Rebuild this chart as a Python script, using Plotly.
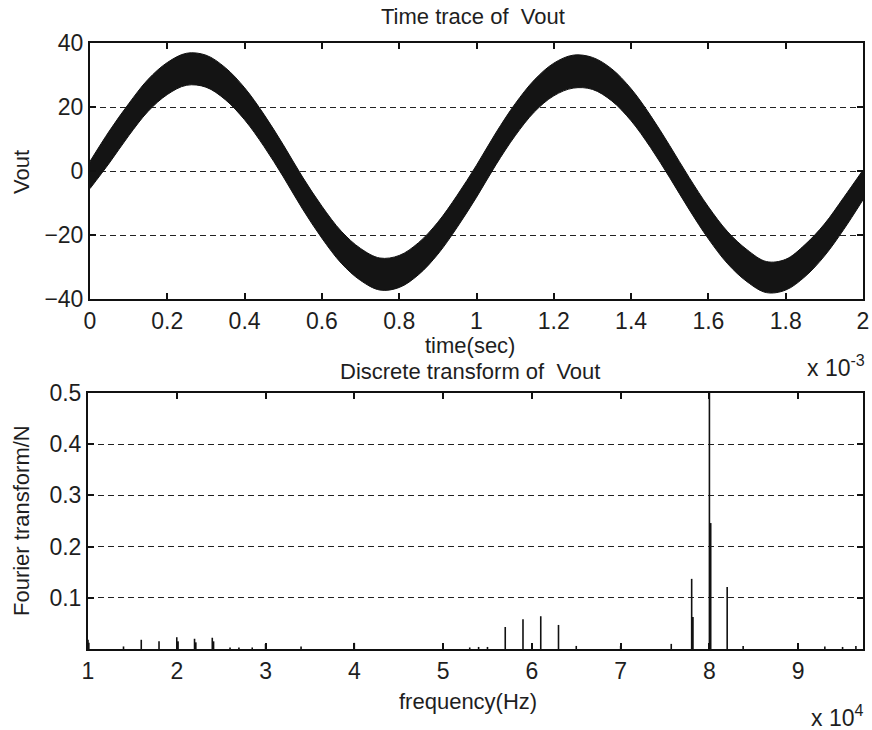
import plotly.graph_objects as go

# ---------------- data ----------------
# Time trace (time in units of 1e-3 s): band envelope of Vout
time_ms = [0.00, 0.05, 0.10, 0.15, 0.20, 0.25, 0.30, 0.35, 0.40, 0.45,
           0.50, 0.55, 0.60, 0.65, 0.70, 0.75, 0.80, 0.85, 0.90, 0.95,
           1.00, 1.05, 1.10, 1.15, 1.20, 1.25, 1.30, 1.35, 1.40, 1.45,
           1.50, 1.55, 1.60, 1.65, 1.70, 1.75, 1.80, 1.85, 1.90, 1.95, 2.00]
vout_upper = [3.0, 12.5, 21.0, 28.6, 33.9, 36.8, 36.2, 32.3, 26.0, 17.7,
              8.2, -1.9, -11.0, -18.8, -24.2, -27.2, -26.4, -22.4, -16.0, -7.6,
              1.8, 11.9, 21.0, 28.5, 33.7, 36.2, 35.5, 31.9, 25.7, 17.4,
              7.9, -2.0, -11.2, -19.0, -24.6, -28.3, -27.6, -23.0, -16.6, -8.3, 0.3]
vout_lower = [-5.5, 2.5, 11.0, 18.6, 23.9, 26.8, 26.2, 22.3, 16.0, 7.7,
              -1.8, -11.9, -21.0, -28.8, -34.2, -37.2, -36.4, -32.4, -26.0, -17.6,
              -8.2, 1.9, 11.0, 18.5, 23.5, 25.9, 25.5, 21.9, 15.7, 7.4,
              -2.1, -12.0, -21.2, -29.0, -34.6, -38.0, -37.2, -33.0, -26.6, -18.3, -9.0]

# Spectrum (frequency in units of 1e4 Hz)
freq_e4 = [1.0, 1.4, 1.6, 1.8, 2.0, 2.2, 2.4, 2.6, 2.7, 2.85, 3.0, 3.4, 4.0,
           5.0, 5.3, 5.4, 5.5, 5.7, 5.9, 6.0, 6.1, 6.3, 6.5, 7.0, 7.57,
           7.8, 8.0, 8.2, 8.38, 9.0, 9.3, 9.5, 9.65]
fourier_n = [0.018, 0.005, 0.018, 0.015, 0.023, 0.020, 0.022, 0.003, 0.003, 0.003,
             0.010, 0.005, 0.012, 0.008, 0.003, 0.004, 0.004, 0.043, 0.058, 0.010,
             0.064, 0.047, 0.006, 0.006, 0.010, 0.137, 0.620, 0.121, 0.006,
             0.008, 0.005, 0.004, 0.006]
# adjacent bins drawn as thicker stems
freq_adj_e4 = [1.005, 2.01, 2.21, 2.41, 7.81, 8.01]
fourier_adj = [0.012, 0.015, 0.013, 0.015, 0.0625, 0.246]

time_ticks = [0, 0.2, 0.4, 0.6, 0.8, 1, 1.2, 1.4, 1.6, 1.8, 2]
time_tick_text = ["0", "0.2", "0.4", "0.6", "0.8", "1", "1.2", "1.4", "1.6", "1.8", "2"]
vout_ticks = [-40, -20, 0, 20, 40]
freq_ticks = [1, 2, 3, 4, 5, 6, 7, 8, 9]
ft_ticks = [0.1, 0.2, 0.3, 0.4, 0.5]

# ---------------- figure ----------------
W, H = 872, 730
def px(x):
    return x / W
def py(y):
    return 1 - y / H

FONT = "Liberation Sans, Arial, sans-serif"
TXT = "#1e1e1e"

def stems(xs, ys):
    sx, sy = [], []
    for a, b in zip(xs, ys):
        sx += [a, a, None]
        sy += [0, b, None]
    return sx, sy

fig = go.Figure()
fig.add_trace(go.Scatter(x=time_ms, y=vout_lower, mode="lines",
                         line=dict(color="#111111", width=1, shape="spline"),
                         xaxis="x", yaxis="y", showlegend=False, hoverinfo="skip"))
fig.add_trace(go.Scatter(x=time_ms, y=vout_upper, mode="lines", fill="tonexty",
                         fillcolor="#141414",
                         line=dict(color="#111111", width=1, shape="spline"),
                         xaxis="x", yaxis="y", showlegend=False, hoverinfo="skip"))

sx, sy = stems(freq_e4, fourier_n)
fig.add_trace(go.Scatter(x=sx, y=sy, mode="lines", line=dict(color="#111111", width=1.6),
                         xaxis="x2", yaxis="y2", showlegend=False, hoverinfo="skip"))
sx2, sy2 = stems(freq_adj_e4, fourier_adj)
fig.add_trace(go.Scatter(x=sx2, y=sy2, mode="lines", line=dict(color="#111111", width=2.4),
                         xaxis="x2", yaxis="y2", showlegend=False, hoverinfo="skip"))

axis_common = dict(showline=True, linecolor="#111111", linewidth=2, mirror="ticks",
                   ticks="inside", ticklen=6, tickwidth=1.5, tickcolor="#111111",
                   tickfont=dict(family=FONT, size=23, color=TXT),
                   zeroline=False, automargin=False)

fig.update_layout(
    width=W, height=H, autosize=False,
    margin=dict(l=0, r=0, t=0, b=0),
    paper_bgcolor="white", plot_bgcolor="white",
    xaxis=dict(domain=[px(90), px(863)], range=[0, 2], anchor="y",
               tickmode="array", tickvals=time_ticks, ticktext=time_tick_text,
               showgrid=False, **axis_common),
    yaxis=dict(domain=[py(299), py(43)], range=[-40, 40], anchor="x",
               tickmode="array", tickvals=vout_ticks,
               showgrid=True, gridcolor="#222222", gridwidth=1, griddash="6px,4px",
               **axis_common),
    xaxis2=dict(domain=[px(88), px(863)], range=[1, 9.73], anchor="y2",
                tickmode="array", tickvals=freq_ticks,
                showgrid=False, **axis_common),
    yaxis2=dict(domain=[py(649), py(393)], range=[0, 0.5], anchor="x2",
                tickmode="array", tickvals=ft_ticks,
                ticktext=["0.1", "0.2", "0.3", "0.4", "0.5"],
                showgrid=True, gridcolor="#222222", gridwidth=1, griddash="6px,4px",
                **axis_common),
)

def ann(text, x, y, size=22, angle=0, xanchor="center", yanchor="middle"):
    fig.add_annotation(text=text, x=px(x), y=py(y), xref="paper", yref="paper",
                       showarrow=False, textangle=angle, xanchor=xanchor, yanchor=yanchor,
                       borderpad=0,
                       font=dict(family=FONT, size=size, color=TXT))

ann("Time trace of  Vout", 473, 17)
ann("time(sec)", 470, 345)
ann("Discrete transform of  Vout", 470, 371)
ann("x 10<sup>-3</sup>", 806, 366, size=23, xanchor="left")
ann("Vout", 21, 172, angle=-90)
ann("Fourier transform/N", 21, 521, angle=-90)
ann("frequency(Hz)", 468, 701)
ann("x 10<sup>4</sup>", 810, 716, size=23, xanchor="left")

fig.write_html("out.html")
